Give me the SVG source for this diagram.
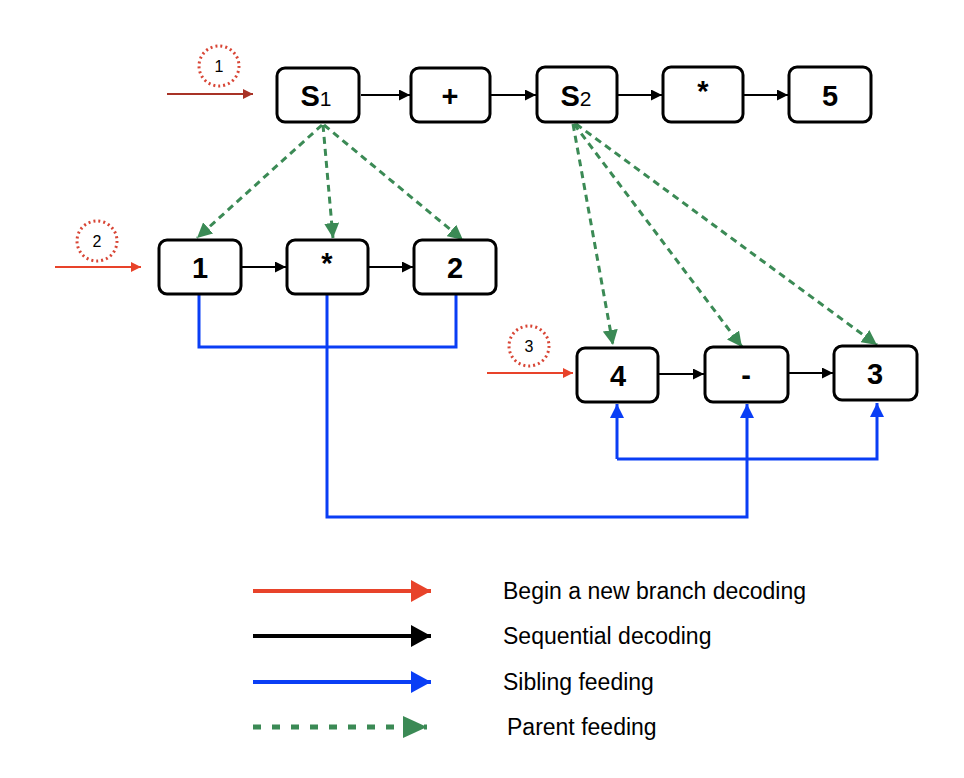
<svg xmlns="http://www.w3.org/2000/svg" width="964" height="778" viewBox="0 0 964 778">
<style>
.box{fill:#fff;stroke:#000;stroke-width:3}
.lbl{font-family:"Liberation Sans",Arial,sans-serif;font-weight:bold;font-size:29px;text-anchor:middle;fill:#000}
.sub{font-size:21px;font-weight:normal}
.seq{stroke:#000;stroke-width:2;fill:none}
.par{stroke:#3b8a55;stroke-width:3;stroke-dasharray:7 5;fill:none}
.sib{stroke:#0a3ef5;stroke-width:3;fill:none}
.circ{fill:none;stroke:#d84535;stroke-width:3;stroke-dasharray:2 3}
.num{font-family:"Liberation Sans",Arial,sans-serif;font-size:16px;text-anchor:middle;fill:#000}
.leg{font-family:"Liberation Sans",Arial,sans-serif;font-size:23px;fill:#000}
</style>
<defs>
<marker id="mb" viewBox="0 0 10 10" refX="10" refY="5" markerWidth="11" markerHeight="11" markerUnits="userSpaceOnUse" orient="auto"><path d="M0,0L10,5L0,10z" fill="#000"/></marker>
<marker id="mg" viewBox="0 0 10 10" refX="10" refY="5" markerWidth="15" markerHeight="15" markerUnits="userSpaceOnUse" orient="auto"><path d="M0,0L10,5L0,10z" fill="#3b8a55"/></marker>
<marker id="mu" viewBox="0 0 10 10" refX="10" refY="5" markerWidth="14" markerHeight="14" markerUnits="userSpaceOnUse" orient="auto"><path d="M0,0L10,5L0,10z" fill="#0a3ef5"/></marker>
<marker id="mr" viewBox="0 0 10 10" refX="10" refY="5" markerWidth="10" markerHeight="10" markerUnits="userSpaceOnUse" orient="auto"><path d="M0,0L10,5L0,10z" fill="#e8432a"/></marker>
<marker id="mdr" viewBox="0 0 10 10" refX="10" refY="5" markerWidth="10" markerHeight="10" markerUnits="userSpaceOnUse" orient="auto"><path d="M0,0L10,5L0,10z" fill="#a83226"/></marker>
<marker id="lr" viewBox="0 0 10 10" refX="10" refY="5" markerWidth="20" markerHeight="22" markerUnits="userSpaceOnUse" orient="auto" preserveAspectRatio="none"><path d="M0,0L10,5L0,10z" fill="#e8432a"/></marker>
<marker id="lk" viewBox="0 0 10 10" refX="10" refY="5" markerWidth="20" markerHeight="22" markerUnits="userSpaceOnUse" orient="auto" preserveAspectRatio="none"><path d="M0,0L10,5L0,10z" fill="#000"/></marker>
<marker id="lb" viewBox="0 0 10 10" refX="10" refY="5" markerWidth="20" markerHeight="22" markerUnits="userSpaceOnUse" orient="auto" preserveAspectRatio="none"><path d="M0,0L10,5L0,10z" fill="#0a3ef5"/></marker>
<marker id="lg" viewBox="0 0 10 10" refX="10" refY="5" markerWidth="24" markerHeight="22" markerUnits="userSpaceOnUse" orient="auto" preserveAspectRatio="none"><path d="M0,0L10,5L0,10z" fill="#3b8a55"/></marker>
</defs>

<g id="connectors">
<line x1="167" y1="94" x2="253" y2="94" stroke="#a83226" stroke-width="2" marker-end="url(#mdr)"/>
<line x1="55" y1="267" x2="141" y2="267" stroke="#e8432a" stroke-width="2" marker-end="url(#mr)"/>
<line x1="487" y1="373" x2="573" y2="373" stroke="#e8432a" stroke-width="2" marker-end="url(#mr)"/>
<line class="seq" x1="361" y1="95" x2="410" y2="95" marker-end="url(#mb)"/>
<line class="seq" x1="491" y1="95" x2="536" y2="95" marker-end="url(#mb)"/>
<line class="seq" x1="618" y1="95" x2="662" y2="95" marker-end="url(#mb)"/>
<line class="seq" x1="744" y1="95" x2="788" y2="95" marker-end="url(#mb)"/>
<line class="seq" x1="242" y1="267" x2="286" y2="267" marker-end="url(#mb)"/>
<line class="seq" x1="369" y1="267" x2="413" y2="267" marker-end="url(#mb)"/>
<line class="seq" x1="656" y1="374" x2="704" y2="374" marker-end="url(#mb)"/>
<line class="seq" x1="789" y1="373" x2="833" y2="373" marker-end="url(#mb)"/>
<line class="par" x1="322" y1="125" x2="197" y2="238" marker-end="url(#mg)"/>
<line class="par" x1="323" y1="125" x2="333" y2="238" marker-end="url(#mg)"/>
<line class="par" x1="324" y1="125" x2="463" y2="240" marker-end="url(#mg)"/>
<line class="par" x1="573" y1="124" x2="613" y2="345" marker-end="url(#mg)"/>
<line class="par" x1="574" y1="124" x2="742" y2="347" marker-end="url(#mg)"/>
<line class="par" x1="576" y1="124" x2="877" y2="345" marker-end="url(#mg)"/>
<polyline class="sib" points="199,294 199,347 456,347 456,294"/>
<polyline class="sib" points="327,294 327,517 747,517 747,404" marker-end="url(#mu)"/>
<polyline class="sib" points="617,459 617,404" marker-end="url(#mu)"/>
<polyline class="sib" points="617,459 877,459 877,403" marker-end="url(#mu)"/>
</g>

<g id="c1"><circle class="circ" cx="219" cy="66" r="20"/><text class="num" x="219" y="72">1</text></g>
<g id="c2"><circle class="circ" cx="97" cy="241" r="20"/><text class="num" x="97" y="247">2</text></g>
<g id="c3"><circle class="circ" cx="529" cy="346" r="20"/><text class="num" x="529" y="352">3</text></g>

<g id="nS1"><rect class="box" x="277" y="68" width="82" height="54" rx="8"/><text class="lbl" x="316" y="106">S<tspan class="sub">1</tspan></text></g>
<g id="nPlus"><rect class="box" x="411" y="68" width="79" height="54" rx="8"/><text class="lbl" x="450" y="106">+</text></g>
<g id="nS2"><rect class="box" x="537" y="67" width="80" height="55" rx="8"/><text class="lbl" x="576" y="106">S<tspan class="sub">2</tspan></text></g>
<g id="nStar1"><rect class="box" x="663" y="67" width="80" height="55" rx="8"/><text class="lbl" x="703" y="101">*</text></g>
<g id="n5"><rect class="box" x="789" y="67" width="82" height="55" rx="8"/><text class="lbl" x="830" y="106">5</text></g>

<g id="n1"><rect class="box" x="159" y="240" width="82" height="54" rx="8"/><text class="lbl" x="200" y="278">1</text></g>
<g id="nStar2"><rect class="box" x="287" y="240" width="81" height="54" rx="8"/><text class="lbl" x="327" y="273">*</text></g>
<g id="n2"><rect class="box" x="414" y="240" width="82" height="54" rx="8"/><text class="lbl" x="455" y="278">2</text></g>

<g id="n4"><rect class="box" x="577" y="348" width="81" height="54" rx="8"/><text class="lbl" x="618" y="386">4</text></g>
<g id="nMinus"><rect class="box" x="705" y="347" width="83" height="55" rx="8"/><text class="lbl" x="746" y="385">-</text></g>
<g id="n3"><rect class="box" x="834" y="346" width="83" height="54" rx="8"/><text class="lbl" x="875" y="384">3</text></g>

<g id="legend">
<line x1="253" y1="591" x2="431" y2="591" stroke="#e8432a" stroke-width="4" marker-end="url(#lr)"/>
<text class="leg" x="503" y="599">Begin a new branch decoding</text>
<line x1="253" y1="636" x2="431" y2="636" stroke="#000" stroke-width="4" marker-end="url(#lk)"/>
<text class="leg" x="503" y="644">Sequential decoding</text>
<line x1="253" y1="682" x2="431" y2="682" stroke="#0a3ef5" stroke-width="4" marker-end="url(#lb)"/>
<text class="leg" x="503" y="690">Sibling feeding</text>
<line x1="253" y1="727" x2="427" y2="727" stroke="#3b8a55" stroke-width="5" stroke-dasharray="8 11" marker-end="url(#lg)"/>
<text class="leg" x="507" y="735">Parent feeding</text>
</g>
</svg>
